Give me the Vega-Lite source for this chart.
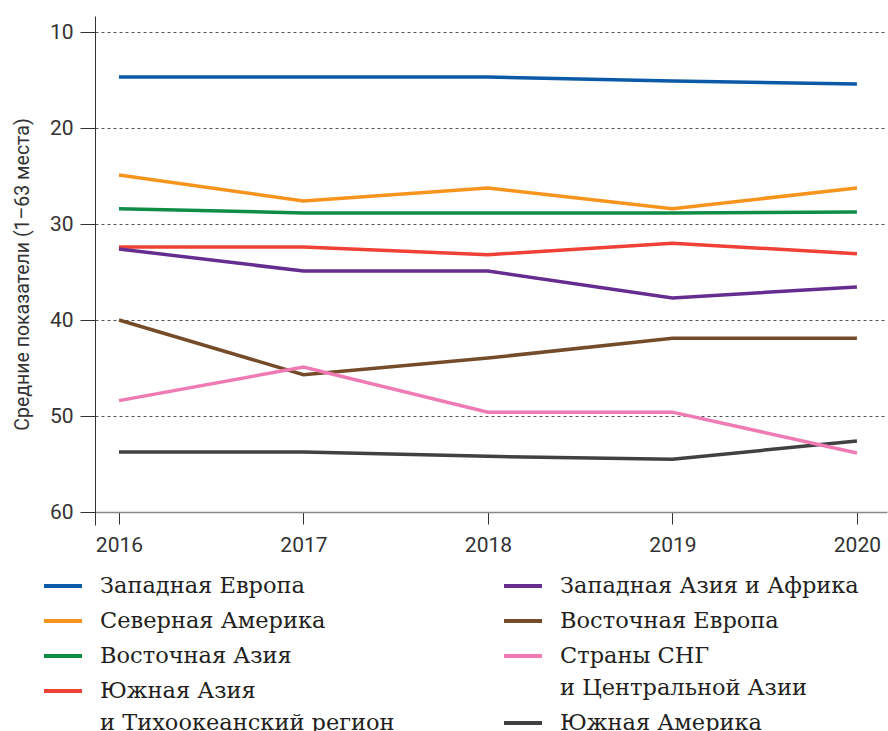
{
  "$schema": "https://vega.github.io/schema/vega-lite/v6.json",
  "autosize": {"type": "none"},
  "padding": {"left": 95, "top": 16, "right": 1, "bottom": 206},
  "width": 792,
  "height": 509,
  "data": {
    "values": [
      {"region": "Западная Европа", "year": 2016, "rank": 14.69},
      {"region": "Западная Европа", "year": 2017, "rank": 14.69},
      {"region": "Западная Европа", "year": 2018, "rank": 14.69},
      {"region": "Западная Европа", "year": 2019, "rank": 15.1},
      {"region": "Западная Европа", "year": 2020, "rank": 15.42},
      {"region": "Северная Америка", "year": 2016, "rank": 24.9},
      {"region": "Северная Америка", "year": 2017, "rank": 27.6},
      {"region": "Северная Америка", "year": 2018, "rank": 26.25},
      {"region": "Северная Америка", "year": 2019, "rank": 28.4},
      {"region": "Северная Америка", "year": 2020, "rank": 26.25},
      {"region": "Восточная Азия", "year": 2016, "rank": 28.4},
      {"region": "Восточная Азия", "year": 2017, "rank": 28.85},
      {"region": "Восточная Азия", "year": 2018, "rank": 28.85},
      {"region": "Восточная Азия", "year": 2019, "rank": 28.85},
      {"region": "Восточная Азия", "year": 2020, "rank": 28.75},
      {"region": "Южная Азия и Тихоокеанский регион", "year": 2016, "rank": 32.4},
      {"region": "Южная Азия и Тихоокеанский регион", "year": 2017, "rank": 32.4},
      {"region": "Южная Азия и Тихоокеанский регион", "year": 2018, "rank": 33.2},
      {"region": "Южная Азия и Тихоокеанский регион", "year": 2019, "rank": 32.0},
      {"region": "Южная Азия и Тихоокеанский регион", "year": 2020, "rank": 33.1},
      {"region": "Западная Азия и Африка", "year": 2016, "rank": 32.6},
      {"region": "Западная Азия и Африка", "year": 2017, "rank": 34.9},
      {"region": "Западная Азия и Африка", "year": 2018, "rank": 34.9},
      {"region": "Западная Азия и Африка", "year": 2019, "rank": 37.7},
      {"region": "Западная Азия и Африка", "year": 2020, "rank": 36.56},
      {"region": "Восточная Европа", "year": 2016, "rank": 40.0},
      {"region": "Восточная Европа", "year": 2017, "rank": 45.7},
      {"region": "Восточная Европа", "year": 2018, "rank": 43.96},
      {"region": "Восточная Европа", "year": 2019, "rank": 41.9},
      {"region": "Восточная Европа", "year": 2020, "rank": 41.9},
      {"region": "Южная Америка", "year": 2016, "rank": 53.75},
      {"region": "Южная Америка", "year": 2017, "rank": 53.75},
      {"region": "Южная Америка", "year": 2018, "rank": 54.2},
      {"region": "Южная Америка", "year": 2019, "rank": 54.5},
      {"region": "Южная Америка", "year": 2020, "rank": 52.6},
      {"region": "Страны СНГ и Центральной Азии", "year": 2016, "rank": 48.4},
      {"region": "Страны СНГ и Центральной Азии", "year": 2017, "rank": 44.9},
      {"region": "Страны СНГ и Центральной Азии", "year": 2018, "rank": 49.6},
      {"region": "Страны СНГ и Центральной Азии", "year": 2019, "rank": 49.6},
      {"region": "Страны СНГ и Центральной Азии", "year": 2020, "rank": 53.85}
    ]
  },
  "encoding": {
    "x": {
      "field": "year",
      "type": "quantitative",
      "scale": {"domain": [2015.87, 2020.163], "nice": false, "zero": false},
      "axis": {
        "values": [2016, 2017, 2018, 2019, 2020],
        "format": "d",
        "title": null,
        "grid": false,
        "offset": -13,
        "tickSize": 12,
        "tickColor": "#333333",
        "domainColor": "#888888",
        "domainWidth": 1.5,
        "labelPadding": 10,
        "labelFont": "Roboto",
        "labelFontSize": 21,
        "labelColor": "#333333"
      }
    },
    "y": {
      "field": "rank",
      "type": "quantitative",
      "scale": {"domain": [8.333, 61.354], "nice": false, "zero": false, "reverse": true},
      "axis": {
        "values": [10, 20, 30, 40, 50, 60],
        "title": "Средние показатели (1–63 места)",
        "titleFont": "Roboto",
        "titleFontSize": 19.5,
        "titleFontWeight": "normal",
        "titleColor": "#333333",
        "titleX": -73,
        "titleY": 258,
        "titleAlign": "center",
        "titleBaseline": "middle",
        "titleAngle": -90,
        "grid": true,
        "gridDash": [3, 3],
        "gridColor": "#555555",
        "gridWidth": 1,
        "tickSize": 15,
        "tickColor": "#333333",
        "domainColor": "#333333",
        "labelPadding": 7,
        "labelFont": "Roboto",
        "labelFontSize": 21,
        "labelColor": "#333333"
      }
    }
  },
  "layer": [
    {
      "transform": [{"filter": {"field": "region", "oneOf": ["Западная Европа", "Северная Америка", "Восточная Азия", "Южная Азия и Тихоокеанский регион"]}}],
      "mark": {"type": "line", "strokeWidth": 3.5},
      "encoding": {
        "color": {
          "field": "region",
          "type": "nominal",
          "scale": {
            "domain": ["Западная Европа", "Северная Америка", "Восточная Азия", "Южная Азия и Тихоокеанский регион"],
            "range": ["#0b5aa8", "#f7941d", "#0f8c45", "#ef4136"]
          },
          "legend": {
            "title": null,
            "orient": "none",
            "legendX": -53,
            "legendY": 549,
            "labelExpr": "datum.label == 'Южная Азия и Тихоокеанский регион' ? ['Южная Азия', 'и Тихоокеанский регион'] : datum.label"
          }
        }
      }
    },
    {
      "transform": [{"filter": {"field": "region", "oneOf": ["Западная Азия и Африка", "Восточная Европа", "Страны СНГ и Центральной Азии", "Южная Америка"]}}],
      "mark": {"type": "line", "strokeWidth": 3.5},
      "encoding": {
        "color": {
          "field": "region",
          "type": "nominal",
          "scale": {
            "domain": ["Западная Азия и Африка", "Восточная Европа", "Южная Америка", "Страны СНГ и Центральной Азии"],
            "range": ["#662d91", "#754c29", "#414042", "#f07ab3"]
          },
          "legend": {
            "title": null,
            "orient": "none",
            "legendX": 407,
            "legendY": 549,
            "values": ["Западная Азия и Африка", "Восточная Европа", "Страны СНГ и Центральной Азии", "Южная Америка"],
            "labelExpr": "datum.label == 'Страны СНГ и Центральной Азии' ? ['Страны СНГ', 'и Центральной Азии'] : datum.label"
          }
        }
      }
    }
  ],
  "resolve": {"scale": {"color": "independent"}, "legend": {"color": "independent"}},
  "config": {
    "view": {"stroke": null},
    "style": {"guide-label": {"lineHeight": 32}},
    "legend": {
      "symbolType": "stroke",
      "symbolSize": 1444,
      "symbolStrokeWidth": 4,
      "labelFont": "DejaVu Serif",
      "labelFontSize": 22.5,
      "labelColor": "#231f20",
      "labelOffset": 16,
      "labelLimit": 0,
      "rowPadding": 2,
      "padding": 0
    }
  }
}
